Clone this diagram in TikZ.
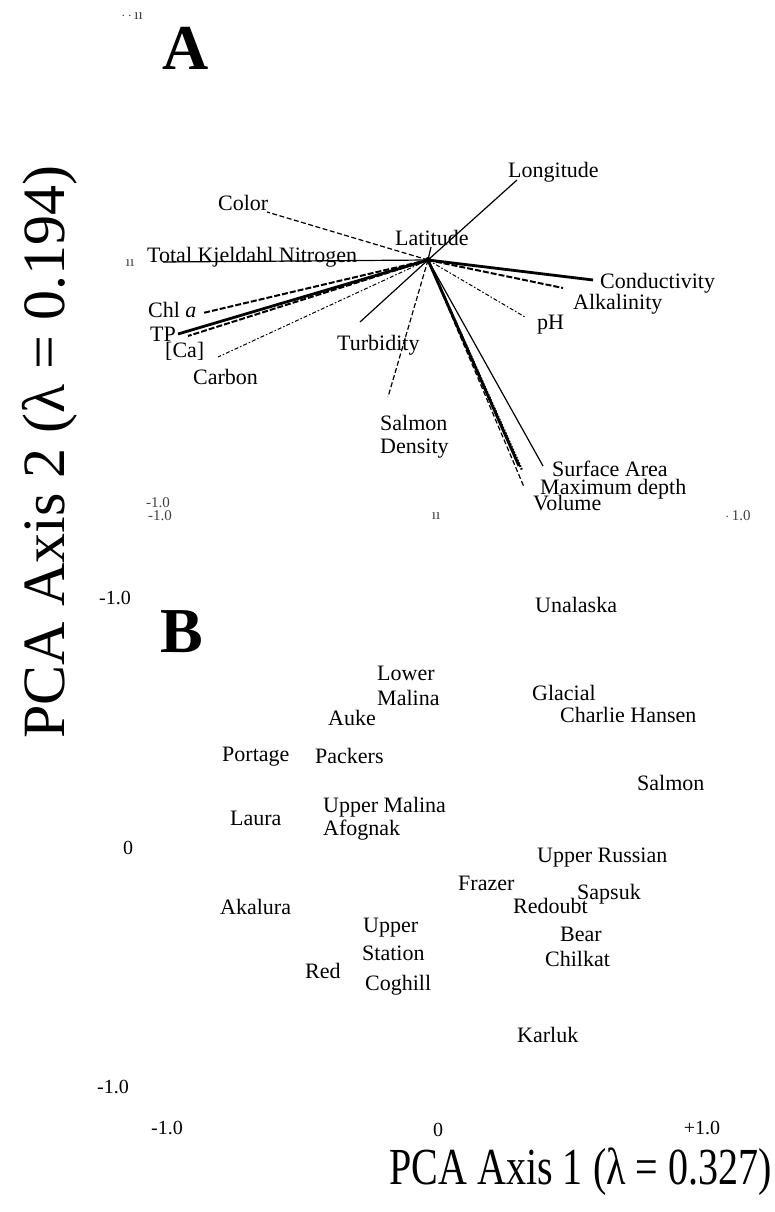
\documentclass[tikz,border=0pt]{standalone}
\usepackage{graphicx}
\usepackage{fontspec}
\setmainfont{Liberation Serif}
\begin{document}
\begin{tikzpicture}[x=1pt,y=-1pt,
  lbl/.style={font=\fontsize{22}{24}\selectfont, inner sep=0pt, anchor=base west},
  ticklbl/.style={font=\fontsize{20}{22}\selectfont, inner sep=0pt, anchor=center},
  faint/.style={font=\fontsize{15}{16}\selectfont, inner sep=0pt, anchor=center, text=black!75},
  panel/.style={font=\bfseries\fontsize{64}{66}\selectfont, inner sep=0pt, anchor=base west},
  axlbl/.style={font=\fontsize{60}{64}\selectfont, inner sep=0pt},
  xaxlbl/.style={font=\fontsize{52}{56}\selectfont, inner sep=0pt},
  thinsolid/.style={line width=1.2pt},
  thicksolid/.style={line width=2.8pt},
  dashedvec/.style={line width=1.2pt, dash pattern=on 5pt off 2.5pt},
  thickdashed/.style={line width=2pt, dash pattern=on 6pt off 2pt},
  dotdash/.style={line width=1pt, dash pattern=on 4pt off 2pt on 1.5pt off 2pt},
  beaded/.style={line width=2.2pt, dash pattern=on 1.6pt off 1.4pt}
]
\useasboundingbox (0,0) rectangle (775,1212);

% ---------- Panel A ----------
\node[panel] (pA) at (162,70) {A};
\node[faint] (tA1) at (132,16) {$\cdot$\,$\cdot$\,ıı};
\node[faint] (tA2) at (130,263) {ıı};
\node[faint] (tA3) at (158,503) {-1.0};
\node[faint] (tA4) at (160,516) {-1.0};
\node[faint] (tA5) at (436,516) {ıı};
\node[faint] (tA6) at (738,516) {$\cdot$\,1.0};

\coordinate (O) at (428,260);
\coordinate (eColor) at (267,212);
\coordinate (eTKN) at (163,262);
\coordinate (eChl) at (203,313);
\coordinate (eTP) at (178,334);
\coordinate (eCa) at (188,336);
\coordinate (eCarbon) at (218,357);
\coordinate (eTurb) at (360,322);
\coordinate (eSalm) at (388,397);
\coordinate (eLat) at (431,247);
\coordinate (eLong) at (517,180);
\coordinate (eCond) at (593,280);
\coordinate (eAlk) at (563,288);
\coordinate (epH) at (525,317);
\coordinate (eSurf) at (543,466);
\coordinate (eMax) at (519,466);
\coordinate (eMax2) at (522,470);
\coordinate (eVol) at (524,487);

\draw[dashedvec] (O) -- (eColor);
\draw[thinsolid] (O) -- (eTKN);
\draw[thickdashed] (O) -- (eChl);
\draw[thicksolid] (O) -- (eTP);
\draw[thickdashed] (O) -- (eCa);
\draw[dotdash] (O) -- (eCarbon);
\draw[thinsolid] (O) -- (eTurb);
\draw[dashedvec] (O) -- (eSalm);
\draw[thinsolid] (O) -- (eLat);
\draw[thinsolid] (O) -- (eLong);
\draw[thicksolid] (O) -- (eCond);
\draw[thickdashed] (O) -- (eAlk);
\draw[dotdash] (O) -- (epH);
\draw[thinsolid] (O) -- (eSurf);
\draw[thicksolid] (O) -- (eMax);
\draw[beaded] (O) -- (eMax2);
\draw[dashedvec] (O) -- (eVol);
\fill (O) circle (3pt);

\node[lbl] (lColor) at (218,210) {Color};
\node[lbl] (lTKN) at (147,262) {Total Kjeldahl Nitrogen};
\node[lbl] (lChl) at (148,317) {Chl \textit{a}};
\node[lbl] (lTP) at (150,341) {TP};
\node[lbl] (lCa) at (165,357) {[Ca]};
\node[lbl] (lCarbon) at (193,384) {Carbon};
\node[lbl] (lTurb) at (337,350) {Turbidity};
\node[lbl] (lLat) at (395,245) {Latitude};
\node[lbl] (lLong) at (508,177) {Longitude};
\node[lbl] (lCond) at (600,288) {Conductivity};
\node[lbl] (lAlk) at (573,309) {Alkalinity};
\node[lbl] (lpH) at (537,329) {pH};
\node[lbl] (lSalm) at (380,430) {Salmon};
\node[lbl] (lDens) at (380,453) {Density};
\node[lbl] (lSurf) at (552,476) {Surface Area};
\node[lbl] (lMax) at (540,494) {Maximum depth};
\node[lbl] (lVol) at (533,510) {Volume};

% ---------- Panel B ----------
\node[panel] (pB) at (160,652) {B};
\node[ticklbl] (tB1) at (115,598) {-1.0};
\node[ticklbl] (tB2) at (128,848) {0};
\node[ticklbl] (tB3) at (113,1087) {-1.0};
\node[ticklbl] (tB4) at (167,1128) {-1.0};
\node[ticklbl] (tB5) at (438,1130) {0};
\node[ticklbl] (tB6) at (702,1128) {+1.0};

\node[lbl] (sUnal) at (535,612) {Unalaska};
\node[lbl] (sLower) at (377,680) {Lower};
\node[lbl] (sMal) at (377,705) {Malina};
\node[lbl] (sAuke) at (328,725) {Auke};
\node[lbl] (sGlac) at (532,700) {Glacial};
\node[lbl] (sChar) at (560,722) {Charlie Hansen};
\node[lbl] (sPort) at (222,761) {Portage};
\node[lbl] (sPack) at (315,763) {Packers};
\node[lbl] (sSalm) at (637,790) {Salmon};
\node[lbl] (sUMal) at (323,812) {Upper Malina};
\node[lbl] (sLaura) at (230,825) {Laura};
\node[lbl] (sAfog) at (323,835) {Afognak};
\node[lbl] (sURus) at (537,862) {Upper Russian};
\node[lbl] (sFraz) at (458,890) {Frazer};
\node[lbl] (sSaps) at (577,899) {Sapsuk};
\node[lbl] (sRedo) at (513,913) {Redoubt};
\node[lbl] (sAkal) at (220,914) {Akalura};
\node[lbl] (sUpper) at (363,932) {Upper};
\node[lbl] (sBear) at (560,941) {Bear};
\node[lbl] (sStat) at (362,960) {Station};
\node[lbl] (sChil) at (545,966) {Chilkat};
\node[lbl] (sRed) at (305,978) {Red};
\node[lbl] (sCogh) at (365,990) {Coghill};
\node[lbl] (sKarl) at (517,1042) {Karluk};

% ---------- Axis titles ----------
\node[axlbl, rotate=90, anchor=base] (yax) at (64,452) {PCA Axis 2 (λ = 0.194)};
\node[xaxlbl, anchor=base east] (xax) at (772,1184) {\scalebox{0.77}[1]{PCA Axis 1 (λ = 0.327)}};
\end{tikzpicture}
\end{document}
